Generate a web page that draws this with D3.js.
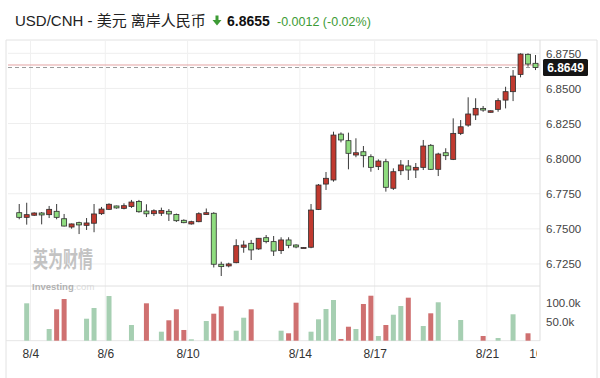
<!DOCTYPE html>
<html>
<head>
<meta charset="utf-8">
<script src="https://cdn.jsdelivr.net/npm/d3@7"></script>
<style>
  body { margin: 0; background: #fff; }
  svg { display: block; font-family: "Liberation Sans", Arial, "Noto Sans CJK SC", sans-serif; }
</style>
</head>
<body>
<div id="chart"></div>
<script>
// candles, one per period, left to right
const opens = [6.7615, 6.7582, 6.7597, 6.7613, 6.7601, 6.7625, 6.7572, 6.7513, 6.7544, 6.7525,
  6.7540, 6.7608, 6.7639, 6.7663, 6.7646, 6.7659, 6.7695, 6.7627, 6.7608, 6.7611,
  6.7625, 6.7602, 6.7561, 6.7535, 6.7551, 6.7602, 6.7611, 6.7248, 6.7236, 6.7259,
  6.7369, 6.7397, 6.7357, 6.7437, 6.7409, 6.7345, 6.7421, 6.7385, 6.7364, 6.7369,
  6.7638, 6.7819, 6.7848, 6.8175, 6.8128, 6.8026, 6.8049, 6.8014, 6.7943, 6.7978,
  6.7789, 6.7914, 6.7948, 6.7919, 6.7938, 6.8095, 6.7924, 6.8042, 6.7995, 6.8180,
  6.8239, 6.8311, 6.8358, 6.8330, 6.8351, 6.8417, 6.8477, 6.8600, 6.8743, 6.8679]
const highs = [6.7677, 6.7686, 6.7618, 6.7620, 6.7663, 6.7677, 6.7606, 6.7538, 6.7551, 6.7577,
  6.7677, 6.7656, 6.7682, 6.7665, 6.7682, 6.7706, 6.7706, 6.7675, 6.7639, 6.7651,
  6.7641, 6.7609, 6.7568, 6.7558, 6.7618, 6.7645, 6.7619, 6.7266, 6.7259, 6.7426,
  6.7416, 6.7421, 6.7435, 6.7456, 6.7449, 6.7440, 6.7440, 6.7390, 6.7369, 6.7677,
  6.7819, 6.7905, 6.8192, 6.8187, 6.8185, 6.8145, 6.8090, 6.8031, 6.7995, 6.7999,
  6.7931, 6.7990, 6.7990, 6.7969, 6.8133, 6.8104, 6.8042, 6.8074, 6.8287, 6.8275,
  6.8437, 6.8430, 6.8375, 6.8343, 6.8430, 6.8512, 6.8631, 6.8750, 6.8750, 6.8738]
const lows = [6.7568, 6.7530, 6.7592, 6.7532, 6.7577, 6.7568, 6.7517, 6.7501, 6.7463, 6.7492,
  6.7476, 6.7599, 6.7634, 6.7644, 6.7639, 6.7649, 6.7615, 6.7584, 6.7592, 6.7592,
  6.7556, 6.7549, 6.7540, 6.7530, 6.7547, 6.7602, 6.7225, 6.7164, 6.7226, 6.7255,
  6.7330, 6.7278, 6.7350, 6.7397, 6.7307, 6.7321, 6.7362, 6.7362, 6.7363, 6.7362,
  6.7634, 6.7777, 6.7836, 6.8116, 6.7924, 6.8010, 6.7938, 6.7907, 6.7919, 6.7765,
  6.7777, 6.7883, 6.7848, 6.7862, 6.7919, 6.7919, 6.7876, 6.7990, 6.7990, 6.8168,
  6.8227, 6.8275, 6.8334, 6.8329, 6.8334, 6.8358, 6.8410, 6.8579, 6.8655, 6.8631]
const closes = [6.7582, 6.7601, 6.7613, 6.7599, 6.7639, 6.7582, 6.7520, 6.7535, 6.7528, 6.7542,
  6.7606, 6.7641, 6.7675, 6.7649, 6.7665, 6.7691, 6.7622, 6.7607, 6.7629, 6.7631,
  6.7606, 6.7558, 6.7544, 6.7551, 6.7608, 6.7615, 6.7248, 6.7231, 6.7250, 6.7380,
  6.7385, 6.7350, 6.7433, 6.7409, 6.7342, 6.7421, 6.7383, 6.7371, 6.7367, 6.7634,
  6.7812, 6.7860, 6.8168, 6.8133, 6.8038, 6.8042, 6.8021, 6.7938, 6.7983, 6.7796,
  6.7907, 6.7955, 6.7919, 6.7938, 6.8090, 6.7924, 6.8033, 6.8021, 6.8180, 6.8227,
  6.8318, 6.8358, 6.8346, 6.8341, 6.8413, 6.8477, 6.8588, 6.8745, 6.8674, 6.8649]
const volumes = [0, 98400, 0, 0, 30800, 82600, 109700, 0, 0, 57900,
  86100, 0, 117600, 0, 0, 41300, 0, 98400, 0, 23700,
  53700, 82600, 28200, 3700, 0, 51800, 71100, 90500, 0, 26300,
  60500, 82600, 0, 0, 0, 26300, 19500, 100000, 0, 23700,
  56300, 83400, 107100, 4500, 36800, 30800, 96600, 118400, 12400, 41300,
  68400, 91300, 113200, 0, 38700, 72100, 101100, 0, 0, 54500,
  0, 0, 12400, 0, 7100, 0, 69500, 0, 19500, 0]

const priceTicks = [6.725, 6.75, 6.775, 6.8, 6.825, 6.85, 6.875]
const volumeTicks = [50000, 100000]
const xTickIdx = [1.5, 11.5, 22.5, 37.5, 47.5, 62.5, 70.1]
const xTickLabels = ['8/4', '8/6', '8/10', '8/14', '8/17', '8/21', '10:00']

const lastPrice = 6.8649
const prevClose = 6.8667
const titleText = 'USD/CNH - 美元 离岸人民币'
const priceText = '6.8655'
const changeText = '-0.0012 (-0.02%)'

const width = 600, height = 378
const left = 8, right = 540, priceTop = 40, priceBottom = 286, volTop = 288, volBottom = 340.7

const candles = opens.map((o, i) => ({ i, o, h: highs[i], l: lows[i], c: closes[i], v: volumes[i] }))

const svg = d3.select('#chart').append('svg')
  .attr('width', width).attr('height', height)
  .attr('viewBox', [0, 0, width, height])

const x = d3.scaleLinear().domain([-1.5, 69.6]).range([left, right])
const y = d3.scaleLinear().domain([6.7093, 6.8845]).range([priceBottom, priceTop])
const yv = d3.scaleLinear().domain([0, 138700]).range([volBottom, volTop])

// frame
svg.append('path')
  .attr('d', `M6,${height} V40 H597 V${height}`)
  .attr('fill', 'none').attr('stroke', '#e2e2e2')

// title row
const title = svg.append('text').attr('x', 15).attr('y', 26)
title.append('tspan').attr('font-size', 15).attr('fill', '#222').text(titleText)
svg.append('path')
  .attr('d', 'M215.5,15.5 H218.5 V20 H221.5 L217,25.5 L212.5,20 H215.5 Z')
  .attr('fill', '#3d9b35')
svg.append('text').attr('x', 227).attr('y', 26)
  .attr('font-size', 14).attr('font-weight', 'bold').attr('fill', '#111')
  .text(priceText)
svg.append('text').attr('x', 277).attr('y', 26)
  .attr('font-size', 12.5).attr('fill', '#3d9b35')
  .text(changeText)

// grid
svg.append('g')
  .selectAll('line')
  .data(priceTicks)
  .join('line')
    .attr('x1', left).attr('x2', right)
    .attr('y1', d => y(d)).attr('y2', d => y(d))
    .attr('stroke', '#eeeeee')
svg.append('g')
  .selectAll('line')
  .data(xTickIdx.slice(0, -1))
  .join('line')
    .attr('x1', d => x(d)).attr('x2', d => x(d))
    .attr('y1', priceTop).attr('y2', volBottom)
    .attr('stroke', '#f0f0f0')

// panel lines
svg.append('line').attr('x1', left - 2).attr('x2', right).attr('y1', priceBottom).attr('y2', priceBottom).attr('stroke', '#e0e0e0')
svg.append('line').attr('x1', left - 2).attr('x2', right).attr('y1', volBottom).attr('y2', volBottom).attr('stroke', '#e6e6e6')
svg.append('line').attr('x1', right).attr('x2', right).attr('y1', priceTop).attr('y2', volBottom).attr('stroke', '#dddddd')

// watermark
const wm = svg.append('g').attr('opacity', 0.75)
wm.append('text').attr('x', 33).attr('y', 267)
  .attr('font-family', '"Noto Sans CJK SC"').attr('font-weight', 'bold')
  .attr('font-size', 22).attr('textLength', 60).attr('lengthAdjust', 'spacingAndGlyphs')
  .attr('fill', '#b0b0b0').text('英为财情')
const wm2 = wm.append('text').attr('x', 32).attr('y', 290).attr('font-size', 9.5).attr('font-weight', 'bold')
wm2.append('tspan').attr('fill', '#9a9a9a').text('Investing')
wm2.append('tspan').attr('fill', '#cfcfcf').attr('font-weight', 'normal').text('.com')

// reference lines
svg.append('line').attr('x1', left).attr('x2', right)
  .attr('y1', y(prevClose)).attr('y2', y(prevClose))
  .attr('stroke', '#e3a3a3').attr('stroke-width', 1)
svg.append('line').attr('x1', left).attr('x2', right)
  .attr('y1', y(lastPrice)).attr('y2', y(lastPrice))
  .attr('stroke', '#9a9a9a').attr('stroke-dasharray', '4,3')

// volume bars
svg.append('g')
  .selectAll('rect')
  .data(candles.filter(d => d.v > 0))
  .join('rect')
    .attr('x', d => x(d.i) - 2.5)
    .attr('width', 5)
    .attr('y', d => yv(d.v))
    .attr('height', d => yv(0) - yv(d.v))
    .attr('fill', d => d.c >= d.o ? '#a6cfb2' : '#cf7070')

// candles (red = up, green = down)
const cg = svg.append('g')
  .selectAll('g')
  .data(candles)
  .join('g')
cg.append('line')
  .attr('x1', d => x(d.i)).attr('x2', d => x(d.i))
  .attr('y1', d => y(d.h)).attr('y2', d => y(d.l))
  .attr('stroke', '#3a3a3a').attr('stroke-width', 1)
cg.append('rect')
  .attr('x', d => x(d.i) - 2.5)
  .attr('width', 5)
  .attr('y', d => y(Math.max(d.o, d.c)))
  .attr('height', d => Math.max(1, y(Math.min(d.o, d.c)) - y(Math.max(d.o, d.c))))
  .attr('fill', d => d.c >= d.o ? '#c0392f' : '#8fdc7f')
  .attr('stroke', '#2e2e2e').attr('stroke-width', 0.8)

// right axes
svg.append('g')
  .attr('transform', `translate(${right},0)`)
  .call(d3.axisRight(y).tickValues(priceTicks).tickSize(0).tickPadding(6).tickFormat(d3.format('.4f')))
  .call(g => g.select('.domain').remove())
  .call(g => g.selectAll('text').attr('font-size', 11.5).attr('fill', '#444').attr('font-family', null))
svg.append('g')
  .attr('transform', `translate(${right},0)`)
  .call(d3.axisRight(yv).tickValues(volumeTicks).tickSize(0).tickPadding(6).tickFormat(d => (d / 1000).toFixed(1) + 'k'))
  .call(g => g.select('.domain').remove())
  .call(g => g.selectAll('text').attr('font-size', 11.5).attr('fill', '#444').attr('font-family', null))

// last price tag
const tag = svg.append('g').attr('transform', `translate(${right + 3},${y(lastPrice)})`)
tag.append('rect').attr('x', 0).attr('y', -8.5).attr('width', 45).attr('height', 17).attr('rx', 1.5).attr('fill', '#151515')
tag.append('text').attr('x', 22.5).attr('dy', '0.35em').attr('text-anchor', 'middle')
  .attr('font-size', 12).attr('font-weight', 'bold').attr('fill', '#fff').text(lastPrice.toFixed(4))

// bottom axis, clipped at the plot edge
svg.append('clipPath').attr('id', 'xclip')
  .append('rect').attr('x', 0).attr('y', volBottom).attr('width', right - 3).attr('height', 40)
svg.append('g')
  .attr('clip-path', 'url(#xclip)')
  .append('g')
  .attr('transform', `translate(0,${volBottom})`)
  .call(d3.axisBottom(x).tickValues(xTickIdx).tickSize(0).tickPadding(9).tickFormat((d, i) => xTickLabels[i]))
  .call(g => g.select('.domain').remove())
  .call(g => g.selectAll('text').attr('font-size', 12).attr('fill', '#333').attr('font-family', null))
</script>
</body>
</html>
